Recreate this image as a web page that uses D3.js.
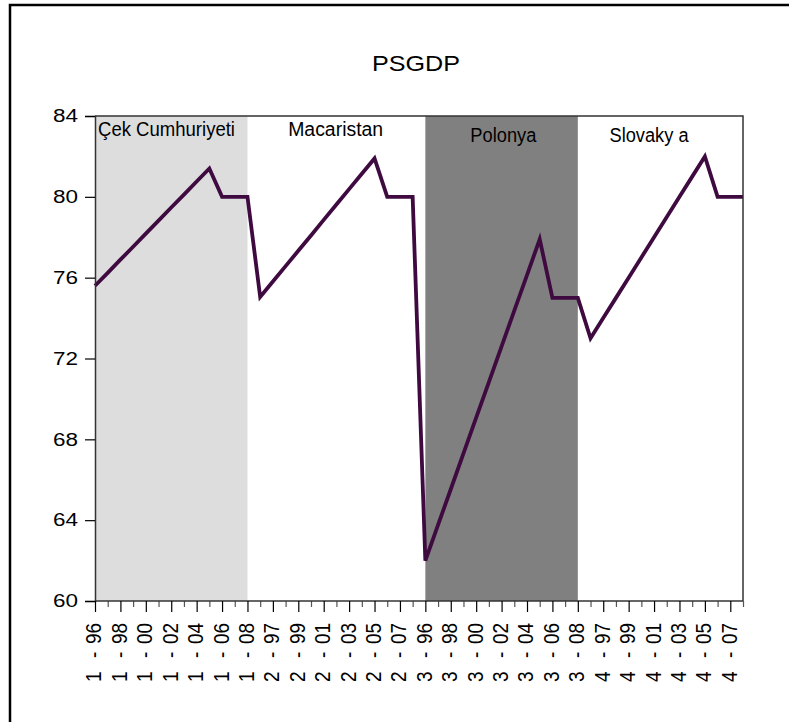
<!DOCTYPE html>
<html>
<head>
<meta charset="utf-8">
<script src="https://cdn.jsdelivr.net/npm/d3@7"></script>
<style>
  html, body { margin: 0; padding: 0; background: #fff; }
  svg { display: block; }
  text { font-family: "Liberation Sans", Arial, sans-serif; fill: #000; }
</style>
</head>
<body>
<svg id="chart" width="789" height="722"></svg>
<script>
// ---- data ----
const title = "PSGDP";
const countries = ["Çek Cumhuriyeti", "Macaristan", "Polonya", "Slovaky a"];
const countryCodes = ["1", "2", "3", "4"];
const years = ["96", "97", "98", "99", "00", "01", "02", "03", "04", "05", "06", "07", "08"];
const cekValues        = [75.60, 76.24, 76.89, 77.53, 78.18, 78.82, 79.47, 80.11, 80.76, 81.40, 80, 80, 80];
const macaristanValues = [75.05, 75.81, 76.57, 77.33, 78.09, 78.86, 79.62, 80.38, 81.14, 81.90, 80, 80, 80];
const polonyaValues    = [62.00, 63.77, 65.53, 67.30, 69.07, 70.83, 72.60, 74.37, 76.13, 77.90, 75, 75, 75];
const slovakyaValues   = [73.00, 74.00, 75.00, 76.00, 77.00, 78.00, 79.00, 80.00, 81.00, 82.00, 80, 80, 80];
const yTicks = [60, 64, 68, 72, 76, 80, 84];

(function () {
// ---- build table ----
const seriesValues = [cekValues, macaristanValues, polonyaValues, slovakyaValues];
const data = [];
countryCodes.forEach((c, ci) => {
  years.forEach((yr, yi) => {
    data.push({ key: c + " - " + yr, code: c, year: yr, country: countries[ci], value: seriesValues[ci][yi] });
  });
});

// ---- styling / layout ----
const shadeColors = ["#dddddd", "none", "#808080", "none"];
const lineColor = "#3e0a40";
const frameColor = "#333333";
const pLeft = 95, pRight = 743, pTop = 116, pBottom = 601;

const svg = d3.select("#chart");
svg.append("rect").attr("width", 789).attr("height", 722).attr("fill", "#fff");

// outer frame (left and top only visible)
svg.append("path").attr("d", "M10,722V5H789")
  .attr("fill", "none").attr("stroke", "#000").attr("stroke-width", 2.5);

const x = d3.scalePoint().domain(data.map(d => d.key)).range([pLeft, pRight]).padding(0);
const y = d3.scaleLinear().domain([60, 84]).range([pBottom, pTop]);

// shading per country
countryCodes.forEach((c, ci) => {
  if (shadeColors[ci] === "none") return;
  const first = c + " - " + years[0], last = c + " - " + years[years.length - 1];
  svg.append("rect")
    .attr("x", x(first)).attr("y", y(84))
    .attr("width", x(last) - x(first)).attr("height", y(60) - y(84))
    .attr("fill", shadeColors[ci]);
});

function fitText(parent, txt, px, py, size, len, anchor) {
  const t = parent.append("text")
    .attr("x", px).attr("y", py)
    .attr("font-size", size)
    .attr("text-anchor", anchor || "start")
    .text(txt);
  if (len) t.attr("textLength", len).attr("lengthAdjust", "spacingAndGlyphs");
  return t;
}

// country labels
const labelPos = [
  { dx: 3,  by: 136, len: 137 },
  { dx: 28, by: 136, len: 95 },
  { dx: 45, by: 142, len: 66 },
  { dx: 19, by: 142, len: 79 }
];
countryCodes.forEach((c, ci) => {
  const x0 = x(c + " - " + years[0]);
  fitText(svg, countries[ci], x0 + labelPos[ci].dx, labelPos[ci].by, 19.5, labelPos[ci].len, "start");
});

// line
const line = d3.line().x(d => x(d.key)).y(d => y(d.value));
svg.append("path").datum(data)
  .attr("d", line)
  .attr("fill", "none")
  .attr("stroke", lineColor)
  .attr("stroke-width", 3.8)
  .attr("stroke-linejoin", "miter");

// frame top & right
svg.append("path")
  .attr("d", `M${pLeft},${pTop}H${pRight}V${pBottom}`)
  .attr("fill", "none").attr("stroke", frameColor).attr("stroke-width", 1.5);

// y axis
const yAxis = svg.append("g").attr("transform", `translate(${pLeft},0)`)
  .call(d3.axisLeft(y).tickValues(yTicks).tickSize(10).tickPadding(7).tickFormat(d3.format("d")));
yAxis.select(".domain").attr("stroke", frameColor).attr("stroke-width", 1.5);
yAxis.selectAll(".tick line").attr("stroke", "#000").attr("stroke-width", 1.2);
yAxis.selectAll(".tick text")
  .attr("font-size", 18)
  .attr("font-family", "Liberation Sans, Arial, sans-serif")
  .attr("fill", "#000")
  .attr("textLength", 25).attr("lengthAdjust", "spacingAndGlyphs");

// x axis
const allKeys = data.map(d => d.key);
const majorKeys = allKeys.filter((k, i) => i % 2 === 0);
const minorKeys = allKeys.filter((k, i) => i % 2 === 1);

const xMinor = svg.append("g").attr("transform", `translate(0,${pBottom})`)
  .call(d3.axisBottom(x).tickValues(minorKeys).tickSize(6).tickFormat(""));
xMinor.select(".domain").remove();
xMinor.selectAll(".tick line").attr("stroke", "#555").attr("stroke-width", 1.2);

const xMajor = svg.append("g").attr("transform", `translate(0,${pBottom})`)
  .call(d3.axisBottom(x).tickValues(majorKeys).tickSize(11).tickFormat(""));
xMajor.select(".domain").attr("stroke", frameColor).attr("stroke-width", 1.5)
  .attr("d", `M${pLeft},0H${pRight}`);
xMajor.selectAll(".tick line").attr("stroke", "#000").attr("stroke-width", 1.2);

xMajor.selectAll(".tick").each(function (k) {
  const parts = k.split(" - ");
  const t = d3.select(this).append("text")
    .attr("transform", "scale(1.15,1) rotate(-90)")
    .attr("font-size", 19)
    .attr("font-family", "Liberation Sans, Arial, sans-serif")
    .attr("text-anchor", "start")
    .attr("y", 5.2)
    .attr("fill", "#000");
  t.append("tspan").attr("x", -81).text(parts[0]);
  t.append("tspan").attr("x", -57).text("-");
  t.append("tspan").attr("x", -43).text(parts[1]);
});

// title
fitText(svg, title, 416, 71, 21.5, 88, "middle");
})();
</script>
</body>
</html>
